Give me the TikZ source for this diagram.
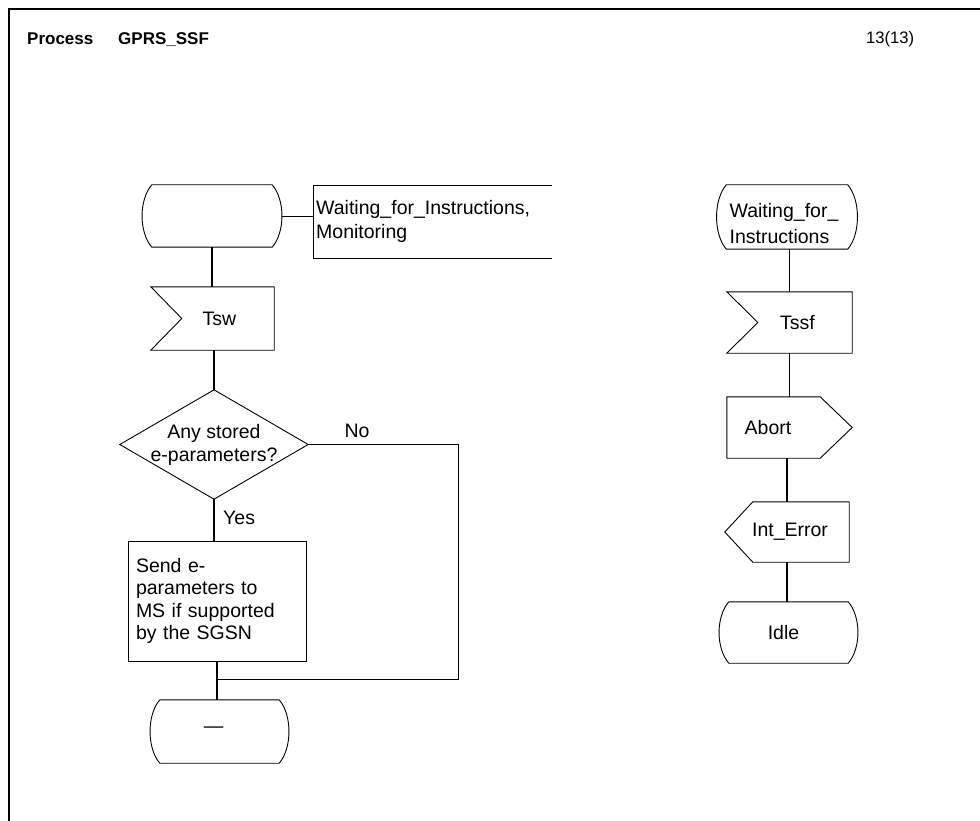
\documentclass[tikz,border=0pt]{standalone}
\usepackage{fontspec}
\setmainfont{Liberation Sans}
\usetikzlibrary{calc}
\newcommand{\sdlstateshape}[1]{\draw[shapeline] ($(#1.north west)+(10,0)$) -- ($(#1.north east)+(-10,0)$) .. controls ($(#1.north east)+(3,15)$) and ($(#1.south east)+(3,-15)$) .. ($(#1.south east)+(-10,0)$) -- ($(#1.south west)+(10,0)$) .. controls ($(#1.south west)+(-3,-15)$) and ($(#1.north west)+(-3,15)$) .. cycle;}
\newcommand{\sdlinputshape}[1]{\draw[shapeline] (#1.north west) -- (#1.north east) -- (#1.south east) -- (#1.south west) -- ($(#1.west)+(31,0)$) -- cycle;}
\newcommand{\sdloutright}[1]{\draw[shapeline] (#1.north west) -- ($(#1.north east)+(-32,0)$) -- (#1.east) -- ($(#1.south east)+(-32,0)$) -- (#1.south west) -- cycle;}
\newcommand{\sdloutleft}[1]{\draw[shapeline] ($(#1.north west)+(28,0)$) -- (#1.north east) -- (#1.south east) -- ($(#1.south west)+(28,0)$) -- (#1.west) -- cycle;}
\begin{document}
\begin{tikzpicture}[x=1pt,y=-1pt,
  font=\fontsize{19.5}{23}\selectfont,
  box/.style={draw=none, inner sep=0pt, align=center},
  shapeline/.style={line width=0.9pt},
  conn/.style={line width=1.4pt},
  frameline/.style={line width=2pt},
  lbl/.style={inner sep=0pt}]
\useasboundingbox (0,0) rectangle (980,821);
\draw[frameline] (9,821) -- (9,9) -- (980,9);

% header
\node[lbl, anchor=base west, font=\fontsize{17}{20}\selectfont\bfseries] (proc) at (27,45) {Process};
\node[lbl, anchor=base west, font=\fontsize{17}{20}\selectfont\bfseries] (pname) at (118,45) {GPRS\_SSF};
\node[lbl, anchor=base west, font=\fontsize{16.6}{20}\selectfont] (page) at (866,44) {13(13)};

% left column
\node[box, minimum width=140pt, minimum height=62pt] (s1) at (212,216) {};
\sdlstateshape{s1}
\node[box, anchor=north west, minimum width=239pt, minimum height=73pt, text width=233pt, inner xsep=3pt, align=left, font=\fontsize{19.5}{24}\selectfont] (cm) at (313,185) {Waiting\_for\_Instructions,\\Monitoring};
\draw[shapeline] (cm.north east) -- (cm.north west) -- (cm.south west) -- (cm.south east);
\draw[shapeline] (s1.east) -- (s1.east -| cm.west);

\node[box, minimum width=123pt, minimum height=63pt] (in1) at (212.5,318.5) {\hspace{14pt}Tsw};
\sdlinputshape{in1}

\node[box, minimum width=188pt, minimum height=109pt] (d1) at (214,444.5) {Any stored\\e-parameters?};
\draw[shapeline] (d1.north) -- (d1.east) -- (d1.south) -- (d1.west) -- cycle;
\node[lbl] (no) at (357,431) {No};
\node[lbl, anchor=west] (yes) at (223,518) {Yes};

\node[draw, shapeline, inner ysep=0pt, inner xsep=8pt, minimum width=178pt, minimum height=120pt, text width=162pt, align=left, font=\fontsize{19.5}{22.3}\selectfont] (t1) at (217,601) {Send e-\\parameters to\\MS if supported\\by the SGSN};

\node[box, minimum width=139pt, minimum height=63pt] (s2) at (219.5,731.5) {\raisebox{3pt}{---}\hspace{12pt}};
\sdlstateshape{s2}

\coordinate (jn) at ($(t1.south)+(0,18)$);
\draw[conn] (s1.south) -- (s1.south |- in1.north);
\draw[conn] (in1.south -| d1.north) -- (d1.north);
\draw[conn] (d1.south) -- (d1.south |- t1.north);
\draw[conn] (d1.east) -- ++(150,0) |- (jn);
\draw[conn] (t1.south) -- (t1.south |- s2.north);

% right column
\node[box, minimum width=141pt, minimum height=64pt] (s3) at (787,217) {};
\sdlstateshape{s3}
\node[lbl, align=left, font=\fontsize{19.5}{26}\selectfont] (s3t) at ($(s3.center)+(-3,7)$) {Waiting\_for\_\\Instructions};

\node[box, minimum width=125pt, minimum height=61pt] (in2) at (789.5,322.5) {\hspace{16pt}Tssf};
\sdlinputshape{in2}

\node[box, minimum width=125pt, minimum height=61pt] (o1) at (789.5,427.5) {Abort\hspace{43pt}};
\sdloutright{o1}

\node[box, minimum width=124pt, minimum height=60pt] (o2) at (787,532) {\hspace{6pt}Int\_Error};
\sdloutleft{o2}

\node[box, minimum width=139pt, minimum height=61pt] (s4) at (788.5,632.5) {\hspace{-10pt}Idle};
\sdlstateshape{s4}

\draw[conn] (s3.south -| in2.north) -- (in2.north);
\draw[conn] (in2.south) -- (in2.south |- o1.north);
\draw[conn] (o1.south -| o2.north) -- (o2.north);
\draw[conn] (o2.south) -- (o2.south |- s4.north);
\end{tikzpicture}
\end{document}
